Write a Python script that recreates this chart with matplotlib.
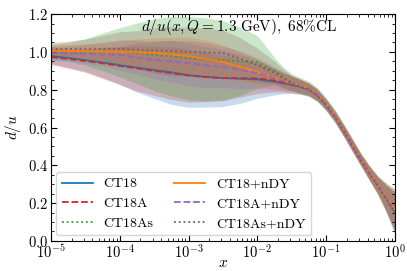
import numpy as np
import matplotlib
matplotlib.use("Agg")
import matplotlib.pyplot as plt
from matplotlib.ticker import MultipleLocator, LogLocator, NullFormatter

plt.rcParams['font.family'] = 'serif'
plt.rcParams['font.serif'] = ['cmr10']
plt.rcParams['mathtext.fontset'] = 'cm'
plt.rcParams['axes.unicode_minus'] = False
plt.rcParams['axes.formatter.use_mathtext'] = True

# grid in log10(x), finer where the curves fall steeply
logx = [-5.0, -4.75, -4.5, -4.25, -4.0, -3.75, -3.5, -3.25, -3.0, -2.75, -2.5, -2.25, -2.0,
        -1.75, -1.625, -1.5, -1.375, -1.25, -1.125, -1.0, -0.875, -0.75, -0.625, -0.5,
        -0.375, -0.25, -0.125, 0.0]

labels = ['CT18', 'CT18A', 'CT18As', 'CT18+nDY', 'CT18A+nDY', 'CT18As+nDY']

ct18 = [0.978, 0.968, 0.957, 0.944, 0.930, 0.917, 0.904, 0.892, 0.877, 0.868, 0.861, 0.858, 0.855,
        0.842, 0.834, 0.825, 0.815, 0.800, 0.770, 0.720, 0.660, 0.587, 0.510, 0.433,
        0.362, 0.296, 0.225, 0.150]
ct18a = [0.973, 0.963, 0.952, 0.940, 0.926, 0.913, 0.900, 0.888, 0.875, 0.867, 0.862, 0.861, 0.860,
         0.848, 0.838, 0.828, 0.817, 0.802, 0.772, 0.722, 0.661, 0.588, 0.511, 0.433,
         0.362, 0.296, 0.228, 0.155]
ct18as = [1.000, 1.000, 1.000, 1.000, 0.998, 0.993, 0.985, 0.977, 0.967, 0.960, 0.955, 0.950, 0.946,
          0.900, 0.865, 0.840, 0.822, 0.805, 0.773, 0.723, 0.661, 0.588, 0.510, 0.432,
          0.361, 0.295, 0.227, 0.155]
ct18_ndy = [1.004, 1.004, 1.003, 1.002, 1.000, 0.998, 0.994, 0.987, 0.978, 0.963, 0.946, 0.922, 0.893,
            0.862, 0.848, 0.835, 0.822, 0.805, 0.775, 0.725, 0.664, 0.590, 0.513, 0.435,
            0.365, 0.298, 0.232, 0.165]
ct18a_ndy = [0.994, 0.992, 0.990, 0.987, 0.983, 0.972, 0.957, 0.950, 0.940, 0.930, 0.920, 0.905, 0.888,
             0.860, 0.846, 0.832, 0.818, 0.803, 0.772, 0.722, 0.661, 0.588, 0.510, 0.432,
             0.360, 0.294, 0.226, 0.155]
ct18as_ndy = [1.015, 1.016, 1.017, 1.017, 1.016, 1.012, 1.008, 1.004, 1.000, 0.997, 0.994, 0.965, 0.930,
              0.890, 0.860, 0.835, 0.817, 0.800, 0.768, 0.718, 0.657, 0.585, 0.507, 0.430,
              0.358, 0.292, 0.222, 0.150]

# 68% CL half widths
err_ct18 = [0.04, 0.05, 0.06, 0.08, 0.10, 0.13, 0.15, 0.17, 0.17, 0.16, 0.15, 0.13, 0.10,
            0.07, 0.055, 0.045, 0.04, 0.035, 0.032, 0.03, 0.03, 0.03, 0.03, 0.03,
            0.035, 0.045, 0.07, 0.10]
err_ct18a = [0.04, 0.05, 0.06, 0.08, 0.10, 0.12, 0.13, 0.14, 0.14, 0.13, 0.12, 0.10, 0.08,
             0.06, 0.05, 0.045, 0.04, 0.035, 0.032, 0.03, 0.03, 0.03, 0.03, 0.03,
             0.035, 0.045, 0.07, 0.10]
err_ct18as = [0.04, 0.05, 0.07, 0.10, 0.13, 0.16, 0.19, 0.21, 0.22, 0.22, 0.21, 0.18, 0.14,
              0.07, 0.055, 0.045, 0.042, 0.04, 0.037, 0.035, 0.035, 0.035, 0.035, 0.035,
              0.04, 0.05, 0.08, 0.12]
err_ct18_ndy = [0.03, 0.035, 0.04, 0.05, 0.06, 0.07, 0.08, 0.09, 0.10, 0.10, 0.09, 0.08, 0.07,
                0.05, 0.045, 0.04, 0.035, 0.03, 0.028, 0.025, 0.025, 0.028, 0.03, 0.03,
                0.035, 0.045, 0.07, 0.11]
err_ct18a_ndy = [0.035, 0.04, 0.05, 0.06, 0.08, 0.09, 0.10, 0.11, 0.12, 0.12, 0.11, 0.10, 0.08,
                 0.06, 0.05, 0.04, 0.035, 0.03, 0.028, 0.025, 0.025, 0.028, 0.03, 0.03,
                 0.035, 0.045, 0.07, 0.11]
err_ct18as_ndy = [0.035, 0.04, 0.05, 0.07, 0.09, 0.10, 0.12, 0.13, 0.13, 0.13, 0.12, 0.11, 0.09,
                  0.06, 0.05, 0.04, 0.035, 0.03, 0.028, 0.025, 0.025, 0.028, 0.03, 0.03,
                  0.035, 0.045, 0.07, 0.11]

centrals = [ct18, ct18a, ct18as, ct18_ndy, ct18a_ndy, ct18as_ndy]
errors = [err_ct18, err_ct18a, err_ct18as, err_ct18_ndy, err_ct18a_ndy, err_ct18as_ndy]
colors = ['C0', 'C3', 'C2', 'C1', 'C4', 'C5']
styles = ['-', '--', ':', '-', '--', ':']

x = 10.0 ** np.array(logx)

fig = plt.figure(figsize=(4.07, 2.71), dpi=100)
ax = fig.add_axes([0.125, 0.111, 0.8455, 0.837])

for c, e, col, ls, lab in zip(centrals, errors, colors, styles, labels):
    c = np.array(c)
    e = np.array(e)
    ax.fill_between(x, c - e, c + e, color=col, alpha=0.25, lw=0)
    ax.plot(x, c, color=col, ls=ls, lw=1.3, label=lab)

ax.set_xscale('log')
ax.set_xlim(1e-5, 1)
ax.set_ylim(0, 1.2)
ax.yaxis.set_major_locator(MultipleLocator(0.2))
ax.yaxis.set_minor_locator(MultipleLocator(0.05))
ax.xaxis.set_minor_locator(LogLocator(base=10, subs=np.arange(2, 10)))
ax.xaxis.set_minor_formatter(NullFormatter())
ax.tick_params(which='both', direction='in', top=True, right=True, labelsize=10.5)
ax.tick_params(which='major', length=4, pad=2)
ax.tick_params(which='minor', length=2)

ax.set_xlabel(r'$x$', fontsize=11)
ax.set_ylabel(r'$d/u$', fontsize=11)
ax.xaxis.set_label_coords(0.5, -0.066)
ax.yaxis.set_label_coords(-0.08, 0.5)
ax.text(0.547, 0.943, r'$d/u(x,Q=1.3\ \mathrm{GeV}),\ 68\%\mathrm{CL}$',
        transform=ax.transAxes, ha='center', va='center', fontsize=11)

ax.legend(loc='lower left', ncol=2, fontsize=10, frameon=True,
          handlelength=2.2, columnspacing=1.5, borderaxespad=0.4)

plt.savefig('out.png', dpi=100)
